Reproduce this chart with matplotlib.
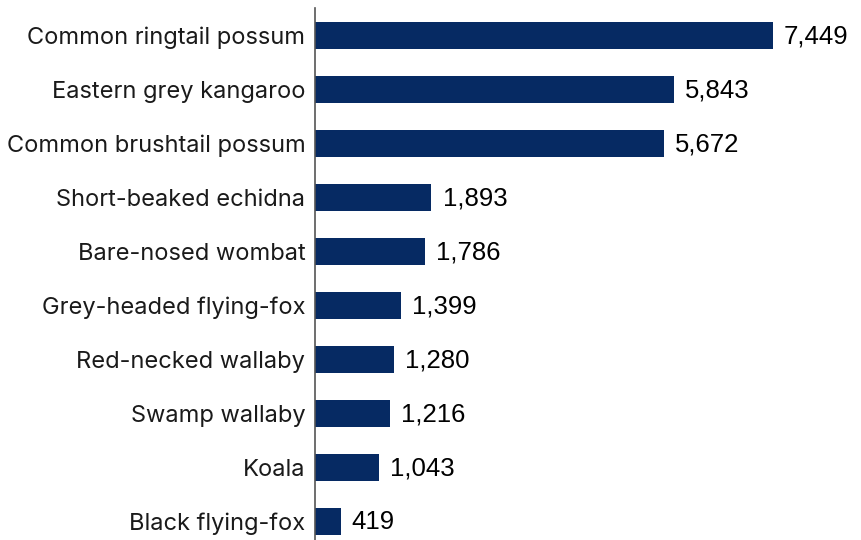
import matplotlib
matplotlib.use("Agg")
import matplotlib.pyplot as plt

species = [
    "Common ringtail possum",
    "Eastern grey kangaroo",
    "Common brushtail possum",
    "Short-beaked echidna",
    "Bare-nosed wombat",
    "Grey-headed flying-fox",
    "Red-necked wallaby",
    "Swamp wallaby",
    "Koala",
    "Black flying-fox",
]
counts = [7449, 5843, 5672, 1893, 1786, 1399, 1280, 1216, 1043, 419]

bar_color = "#062a63"

fig = plt.figure(figsize=(8.61, 5.40), dpi=100)
ax = fig.add_axes([315 / 861, 0, (861 - 315) / 861, (540 - 8) / 540])

pos = list(range(len(species)))
ax.barh(pos, counts, height=0.5, color=bar_color, zorder=2)

for y, v in zip(pos, counts):
    ax.annotate(f"{v:,}", (v, y), xytext=(8, -1), textcoords="offset points",
                ha="left", va="center", fontsize=18.5, family="Liberation Sans",
                color="#000000")

ax.set_yticks(pos)
ax.set_yticklabels(species, fontsize=17, family="Inter", color="#1a1a1a")
ax.tick_params(axis="y", length=0, pad=7)
ax.set_xticks([])
ax.set_xlim(0, 8880)
ax.set_ylim(9.35, -0.5)

for side in ["top", "right", "bottom"]:
    ax.spines[side].set_visible(False)
ax.spines["left"].set_color("#555555")
ax.spines["left"].set_linewidth(1.2)

fig.savefig("out.png", dpi=100)
